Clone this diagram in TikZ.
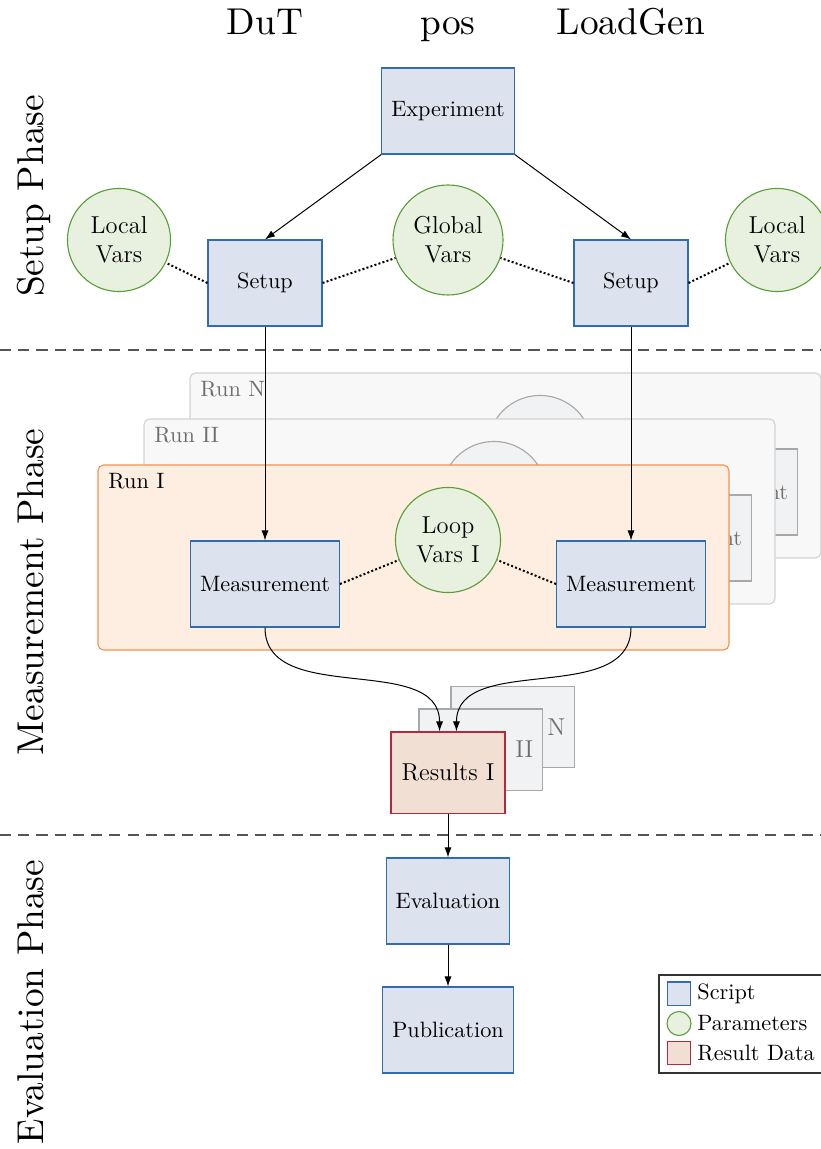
\documentclass[tikz,border=0pt]{standalone}
\usetikzlibrary{arrows.meta}
\definecolor{scriptfill}{HTML}{DCE2EE}
\definecolor{scriptdraw}{HTML}{2E6DB0}
\definecolor{paramfill}{HTML}{E8F0E0}
\definecolor{paramdraw}{HTML}{5B9E35}
\definecolor{resfill}{HTML}{F2DFD4}
\definecolor{resdraw}{HTML}{B32A3A}
\definecolor{runfill}{HTML}{FDEEE1}
\definecolor{rundraw}{HTML}{F2934E}
\definecolor{ghostrun}{HTML}{F8F8F8}
\definecolor{ghostrundraw}{HTML}{D2D2D2}
\definecolor{ghostfill}{HTML}{F1F2F4}
\definecolor{ghostdraw}{HTML}{A8A8A8}
\definecolor{ghosttext}{HTML}{6E6E6E}
\definecolor{sepline}{HTML}{555555}
% large headings: the 10pt design enlarged
\newcommand{\bigtitle}[1]{\scalebox{1.68}{\fontsize{10}{12}\selectfont #1}}
\begin{document}
\begin{tikzpicture}[x=0.45pt,y=-0.45pt,
  script/.style={draw=scriptdraw,fill=scriptfill,line width=0.5pt,rectangle,
    minimum width=51.3pt,minimum height=38.7pt,inner xsep=4.3pt,font=\fontsize{10}{12}\selectfont},
  param/.style={draw=paramdraw,fill=paramfill,line width=0.5pt,circle,align=center,
    inner sep=1pt,font=\fontsize{11}{13}\selectfont},
  result/.style={draw=resdraw,fill=resfill,line width=0.5pt,rectangle,
    minimum width=51.3pt,minimum height=36.5pt,font=\fontsize{11}{13}\selectfont},
  ghostbox/.style={draw=ghostdraw,fill=ghostfill,line width=0.5pt,rectangle,text=ghosttext,
    minimum width=51.3pt,minimum height=38.7pt,inner xsep=4.3pt,font=\fontsize{10}{12}\selectfont},
  ghostparam/.style={draw=ghostdraw,fill=ghostfill,line width=0.5pt,circle,align=center,
    text=ghosttext,inner sep=1pt,minimum size=47.3pt,font=\fontsize{11}{13}\selectfont},
  ghostrunbox/.style={draw=ghostrundraw,fill=ghostrun,line width=0.5pt,rounded corners=2.5pt},
  runbox/.style={draw=rundraw,fill=runfill,line width=0.5pt,rounded corners=2.5pt},
  flow/.style={line width=0.45pt,-{Latex[length=4.5pt,width=3.2pt]}},
  link/.style={line width=0.9pt,densely dotted},
  ghostlink/.style={line width=0.9pt,densely dotted,ghostdraw},
  column/.style={anchor=base,inner sep=0pt},
  phase/.style={anchor=base,rotate=90,inner sep=0pt},
  separator/.style={sepline,line width=0.6pt,dash pattern=on 5pt off 3.2pt},
  runlabel/.style={anchor=base west,inner sep=0pt,font=\fontsize{10}{12}\selectfont},
]
\useasboundingbox (0,0) rectangle (820,1149);

% column headings
\node[column] (hdut) at (265,35) {\bigtitle{DuT}};
\node[column] (hpos) at (448,35) {\bigtitle{pos}};
\node[column] (hlg)  at (631,35) {\bigtitle{LoadGen}};

% phase labels
\node[phase] (psetup) at (43,196) {\bigtitle{Setup Phase}};
\node[phase] (pmeas)  at (43,592) {\bigtitle{Measurement Phase}};
\node[phase] (peval)  at (43,1002) {\bigtitle{Evaluation Phase}};

% phase separators
\coordinate (s1a) at (0,350);   \coordinate (s1b) at (822,350);
\coordinate (s2a) at (0,835);   \coordinate (s2b) at (822,835);
\draw[separator] (s1a) -- (s1b);
\draw[separator] (s2a) -- (s2b);

% ---------------- setup phase ----------------
\node[script] (exp) at (448,111) {Experiment};
\node[script] (setL) at (265,283) {Setup};
\node[script] (setR) at (631,283) {Setup};
\node[param,minimum size=46.4pt] (lvL) at (119,240) {Local\\Vars};
\node[param,minimum size=49.5pt] (gv)  at (448,240) {Global\\Vars};
\node[param,minimum size=46.4pt] (lvR) at (777,240) {Local\\Vars};

\draw[flow] (exp.south west) -- (setL.north);
\draw[flow] (exp.south east) -- (setR.north);
\draw[link] (setL.west) -- (lvL);
\draw[link] (setL.east) -- (gv);
\draw[link] (setR.west) -- (gv);
\draw[link] (setR.east) -- (lvR);

% ---------------- measurement phase ----------------
% run N (back)
\begin{scope}[shift={(92,-92)}]
  \draw[ghostrunbox] (98,465) rectangle (729,650);
  \node[runlabel,text=ghosttext] (rnN) at (108,489) {Run N};
  \node[ghostbox] (mLN) at (265,584) {Measurement};
  \node[ghostbox] (mRN) at (631,584) {Measurement};
  \node[ghostparam] (lpN) at (448,540) {Loop\\Vars N};
  \draw[ghostlink] (mLN.east) -- (lpN);
  \draw[ghostlink] (mRN.west) -- (lpN);
\end{scope}
% run II (middle)
\begin{scope}[shift={(46,-46)}]
  \draw[ghostrunbox] (98,465) rectangle (729,650);
  \node[runlabel,text=ghosttext] (rnII) at (108,489) {Run II};
  \node[ghostbox] (mLII) at (265,584) {Measurement};
  \node[ghostbox] (mRII) at (631,584) {Measurement};
  \node[ghostparam] (lpII) at (448,540) {Loop\\Vars II};
  \draw[ghostlink] (mLII.east) -- (lpII);
  \draw[ghostlink] (mRII.west) -- (lpII);
\end{scope}
% run I (front)
\draw[runbox] (98,465) rectangle (729,650);
\node[runlabel] (rnI) at (108,489) {Run I};
\node[script] (mL) at (265,584) {Measurement};
\node[script] (mR) at (631,584) {Measurement};
\node[param,minimum size=47.3pt] (lp) at (448,540) {Loop\\Vars I};
\draw[link] (mL.east) -- (lp);
\draw[link] (mR.west) -- (lp);

\draw[flow] (setL.south) -- (mL.north);
\draw[flow] (setR.south) -- (mR.north);

% result data stack
\node[draw=ghostdraw,fill=ghostfill,line width=0.5pt,minimum width=55.4pt,minimum height=36.5pt] (resN) at (512.5,727) {};
\node[anchor=east,text=ghosttext,font=\fontsize{11}{13}\selectfont,inner sep=4pt] (resNl) at (resN.east) {N};
\node[draw=ghostdraw,fill=ghostfill,line width=0.5pt,minimum width=55.4pt,minimum height=36.5pt] (resII) at (480.5,749.5) {};
\node[anchor=east,text=ghosttext,font=\fontsize{11}{13}\selectfont,inner sep=4pt] (resIIl) at (resII.east) {II};
\node[result] (res) at (448,772.5) {Results I};

\draw[flow] (mL.south) to[out=-90,in=90] ([xshift=-3.8pt]res.north);
\draw[flow] (mR.south) to[out=-90,in=90] ([xshift=3.8pt]res.north);

% ---------------- evaluation phase ----------------
\node[script] (eval) at (448,901) {Evaluation};
\node[script] (pub) at (448,1030) {Publication};
\draw[flow] (res.south) -- (eval.north);
\draw[flow] (eval.south) -- (pub.north);

% legend
\draw[line width=0.6pt,draw=black!80] (659,975) rectangle (824,1073);
\node[draw=scriptdraw,fill=scriptfill,line width=0.5pt,minimum size=10.4pt,inner sep=0pt] (lgs) at (679,993.5) {};
\node[draw=paramdraw,fill=paramfill,line width=0.5pt,circle,minimum size=10.8pt,inner sep=0pt] (lgp) at (679,1023.5) {};
\node[draw=resdraw,fill=resfill,line width=0.5pt,minimum size=10.4pt,inner sep=0pt] (lgr) at (679,1053) {};
\node[anchor=west,inner sep=0pt,font=\fontsize{10}{12}\selectfont] (lgst) at (697,993.5) {Script};
\node[anchor=west,inner sep=0pt,font=\fontsize{10}{12}\selectfont] (lgpt) at (697,1023.5) {Parameters};
\node[anchor=west,inner sep=0pt,font=\fontsize{10}{12}\selectfont] (lgrt) at (697,1053) {Result Data};
\end{tikzpicture}
\end{document}
